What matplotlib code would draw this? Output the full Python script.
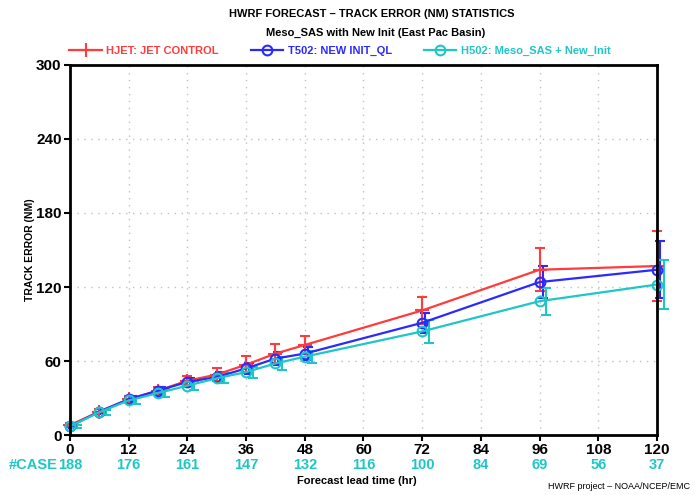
import matplotlib
matplotlib.use("Agg")
import matplotlib.pyplot as plt
import numpy as np

plt.rcParams['font.family'] = ['Liberation Sans', 'DejaVu Sans']

# Données
heures = [0, 6, 12, 18, 24, 30, 36, 42, 48, 72, 96, 120]

hjet = [8, 19, 29, 36, 44, 49, 57, 66, 73, 101, 134, 137]
hjet_err = [1.5, 2, 2.5, 3, 3.5, 5.5, 7, 7.5, 7.5, 11, 17.5, 28.5]

t502 = [7, 19, 29, 36, 43, 47, 54, 62, 66, 91, 124, 134]
t502_err = [1.5, 2, 2.5, 3, 3.5, 4, 4.5, 5, 5.5, 8, 13, 23]

h502 = [7, 18.5, 28, 34, 40, 46, 51, 58, 63.5, 84, 108.5, 122]
h502_err = [1.5, 2, 2.5, 3, 3.5, 4, 4.5, 5, 5, 9.5, 11, 19.5]

cas_heures = [0, 12, 24, 36, 48, 60, 72, 84, 96, 108, 120]
cas = [188, 176, 161, 147, 132, 116, 100, 84, 69, 56, 37]

ROUGE = "#ff3b3b"
BLEU = "#2a2aff"
CYAN = "#1fc6c6"

fig = plt.figure(figsize=(6.95, 4.95), dpi=100)
ax = fig.add_axes([0.1007, 0.1212, 0.8446, 0.7475])

x = np.array(heures, dtype=float)

# Les trois séries avec barres d'erreur (légèrement décalées)
series = [
    ("HJET: JET CONTROL", hjet, hjet_err, ROUGE, "+", 0.0),
    ("T502: NEW INIT_QL", t502, t502_err, BLEU, "o", 0.6),
    ("H502: Meso_SAS + New_Init", h502, h502_err, CYAN, "o", 1.4),
]
for nom, val, err, couleur, mk, dx in series:
    eb = ax.errorbar(x + dx, val, yerr=err, fmt="none", ecolor=couleur,
                     elinewidth=1.5, capsize=3.5, capthick=1.5, zorder=3)
    for art in eb.lines[1] + eb.lines[2]:
        art.set_clip_on(False)
    ax.plot(x, val, color=couleur, linewidth=1.6, marker=mk,
            markersize=7 if mk == "o" else 10, markerfacecolor="none",
            markeredgecolor=couleur, markeredgewidth=1.5, label=nom,
            zorder=4, clip_on=False)

ax.set_xlim(0, 120)
ax.set_ylim(0, 300)
ax.set_xticks(range(0, 121, 12))
ax.set_yticks(range(0, 301, 60))
ax.grid(True, linestyle=(0, (1, 4)), color="#c0c0c0", linewidth=1.0)
ax.set_axisbelow(True)

for s in ax.spines.values():
    s.set_linewidth(2)
    s.set_zorder(5)
ax.tick_params(direction="out", length=4, width=1.5, labelsize=11, pad=2)
for lab in ax.get_xticklabels() + ax.get_yticklabels():
    lab.set_fontweight("bold")

ax.set_ylabel("TRACK ERROR (NM)", fontsize=7.5, fontweight="bold", labelpad=1)

# Titres
fig.text(0.535, 0.972, "HWRF FORECAST \u2013 TRACK ERROR (NM) STATISTICS",
         ha="center", va="center", fontsize=8, fontweight="bold")
fig.text(0.541, 0.933, "Meso_SAS with New Init (East Pac Basin)",
         ha="center", va="center", fontsize=8, fontweight="bold")

# Légende sur une ligne au-dessus du graphique
leg = fig.legend(loc="center left", bbox_to_anchor=(0.092, 0.897), ncol=3,
                 frameon=False, handlelength=2.9, columnspacing=2.9,
                 handletextpad=0.4, borderpad=0.0,
                 prop={"weight": "bold", "size": 8})
for txt, (_, _, _, couleur, _, _) in zip(leg.get_texts(), series):
    txt.set_color(couleur)

# Nombre de cas
for h, c in zip(cas_heures, cas):
    ax.text(h, -0.081, str(c), transform=ax.get_xaxis_transform(), ha="center",
            va="center", fontsize=10.5, fontweight="bold", color=CYAN)
fig.text(0.013, 0.061, "#CASE", ha="left", va="center", fontsize=10.5,
         fontweight="bold", color=CYAN)

fig.text(0.514, 0.028, "Forecast lead time (hr)", ha="center", va="center",
         fontsize=8, fontweight="bold")
fig.text(0.993, 0.018, "HWRF project \u2013 NOAA/NCEP/EMC", ha="right",
         va="center", fontsize=6.5)

fig.savefig("out.png", dpi=100)
